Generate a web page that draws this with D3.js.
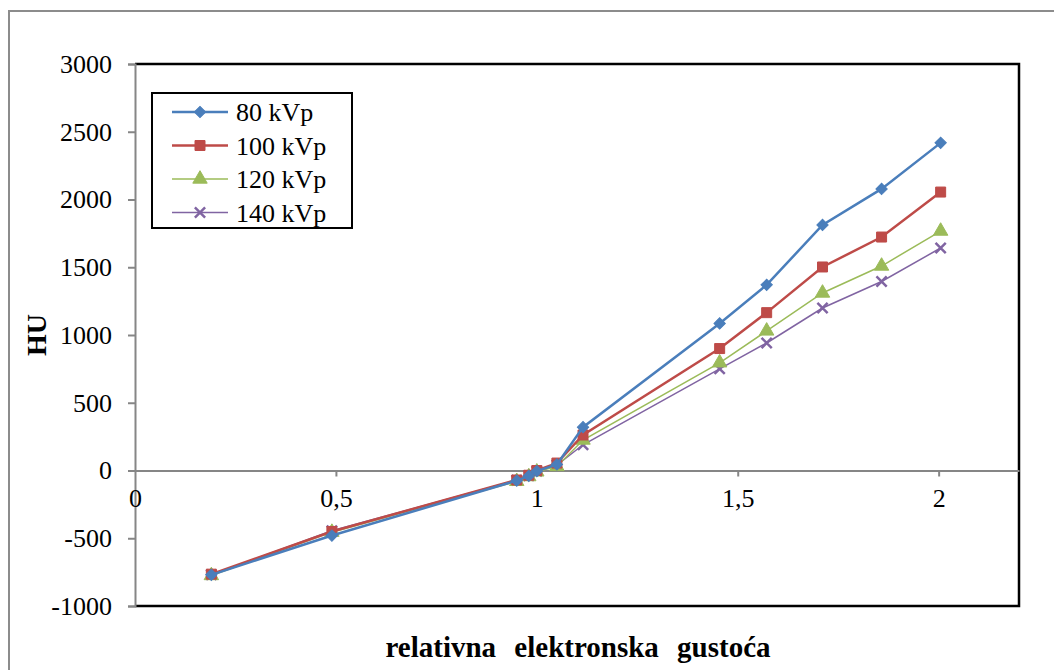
<!DOCTYPE html>
<html>
<head>
<meta charset="utf-8">
<script src="https://cdn.jsdelivr.net/npm/d3@7"></script>
<style>
  body { margin: 0; background: #fff; }
  svg text { font-family: "Liberation Serif", "Times New Roman", serif; }
</style>
</head>
<body>
<svg id="chart"></svg>
<script>
// relative electron density (x) and HU for each tube voltage
const density = [0.19, 0.49, 0.95, 0.98, 1.0, 1.05, 1.115, 1.455, 1.572, 1.711, 1.858, 2.005];
const hu80  = [-770, -480, -75, -40, -5, 45, 320, 1085, 1370, 1812, 2078, 2418];
const hu100 = [-765, -450, -70, -35, 0, 55, 262, 900, 1165, 1502, 1723, 2055];
const hu120 = [-775, -455, -80, -45, -10, 30, 225, 795, 1030, 1310, 1509, 1767];
const hu140 = [-770, -445, -72, -38, -5, 40, 190, 750, 941, 1199, 1395, 1642];
const seriesNames = ["80 kVp", "100 kVp", "120 kVp", "140 kVp"];
const xTicks = [0, 0.5, 1, 1.5, 2];
const yTicks = [-1000, -500, 0, 500, 1000, 1500, 2000, 2500, 3000];

const width = 1054, height = 670;
const margin = {top: 64, right: 35, bottom: 64, left: 135};

const series = [
  {name: seriesNames[0], values: hu80,  color: "#4a7ebb", width: 2.5, symbol: "diamond"},
  {name: seriesNames[1], values: hu100, color: "#be4b48", width: 2.5, symbol: "square"},
  {name: seriesNames[2], values: hu120, color: "#9bbb59", width: 1.5, symbol: "triangle"},
  {name: seriesNames[3], values: hu140, color: "#8064a2", width: 1.5, symbol: "cross"}
];

const svg = d3.select("#chart")
  .attr("width", width)
  .attr("height", height);

//outer chart frame (runs off the page on right and bottom)
svg.append("rect")
  .attr("x", 9).attr("y", 11)
  .attr("width", 1100).attr("height", 700)
  .attr("fill", "none")
  .attr("stroke", "#8c8c8c")
  .attr("stroke-width", 2);

const x = d3.scaleLinear()
  .domain([0, 2.2])
  .range([margin.left, width - margin.right]);
const y = d3.scaleLinear()
  .domain([-1000, 3000])
  .range([height - margin.bottom, margin.top]);

const fmt = d => String(d).replace(".", ",");

//plot area border (top, right, bottom)
svg.append("path")
  .attr("d", `M${x(0)},${y(3000)}H${x(2.2)}V${y(-1000)}H${x(0)}`)
  .attr("fill", "none")
  .attr("stroke", "#000")
  .attr("stroke-width", 2.5);

//y axis
const yAxis = svg.append("g")
  .attr("transform", `translate(${x(0)},0)`)
  .call(d3.axisLeft(y).tickValues(yTicks).tickSize(7).tickPadding(16).tickFormat(d => d));
yAxis.attr("font-family", null).attr("font-size", null);
yAxis.selectAll("path, line").attr("stroke", "#868686").attr("stroke-width", 2);
yAxis.selectAll("text")
  .style("font-size", "26px")
  .attr("fill", "#000");

//x axis through zero
const xAxis = svg.append("g")
  .attr("transform", `translate(0,${y(0)})`)
  .call(d3.axisBottom(x).tickValues(xTicks).tickSize(6).tickSizeOuter(0).tickPadding(12).tickFormat(fmt));
xAxis.attr("font-family", null).attr("font-size", null);
xAxis.selectAll("path, line").attr("stroke", "#868686").attr("stroke-width", 2);
xAxis.select(".tick line").remove();
xAxis.selectAll("text")
  .style("font-size", "26px")
  .attr("fill", "#000");

//axis titles
svg.append("text")
  .attr("transform", `translate(46,${(y(3000) + y(-1000)) / 2}) rotate(-90)`)
  .attr("text-anchor", "middle")
  .style("font-size", "28px")
  .attr("font-weight", "bold")
  .text("HU");

svg.append("text")
  .attr("x", 578)
  .attr("y", 657)
  .attr("text-anchor", "middle")
  .style("font-size", "29px")
  .attr("font-weight", "bold")
  .attr("word-spacing", "11px")
  .text("relativna elektronska gustoća");

const symbolType = {
  diamond: d3.symbolSquare,
  square: d3.symbolSquare,
  triangle: d3.symbolTriangle,
  cross: d3.symbolX
};

function drawMarker(g, s, cx, cy) {
  const sizes = {diamond: 64, square: 100, triangle: 90, cross: 70};
  const rot = s.symbol === "diamond" ? " rotate(45)" : "";
  const p = g.append("path")
    .attr("d", d3.symbol(symbolType[s.symbol], sizes[s.symbol])())
    .attr("transform", `translate(${cx},${cy})${rot}`);
  if (s.symbol === "cross") {
    p.attr("fill", "none").attr("stroke", s.color).attr("stroke-width", 2.5);
  } else {
    p.attr("fill", s.color).attr("stroke", s.color).attr("stroke-width", 1);
  }
}

const line = d3.line()
  .x((d, i) => x(density[i]))
  .y(d => y(d));

//draw from last to first so 80 kVp ends on top
series.slice().reverse().forEach(s => {
  const g = svg.append("g");
  g.append("path")
    .attr("d", line(s.values))
    .attr("fill", "none")
    .attr("stroke", s.color)
    .attr("stroke-width", s.width);
  s.values.forEach((v, i) => drawMarker(g, s, x(density[i]), y(v)));
});

//legend
const legend = svg.append("g");
legend.append("rect")
  .attr("x", 152).attr("y", 93)
  .attr("width", 200).attr("height", 135)
  .attr("fill", "#fff")
  .attr("stroke", "#000")
  .attr("stroke-width", 2);

series.forEach((s, i) => {
  const ly = 112 + i * 33.5;
  legend.append("line")
    .attr("x1", 172).attr("x2", 228)
    .attr("y1", ly).attr("y2", ly)
    .attr("stroke", s.color)
    .attr("stroke-width", s.width);
  drawMarker(legend, s, 200, ly);
  legend.append("text")
    .attr("x", 236)
    .attr("y", ly + 9)
    .style("font-size", "26px")
    .text(s.name);
});
</script>
</body>
</html>
